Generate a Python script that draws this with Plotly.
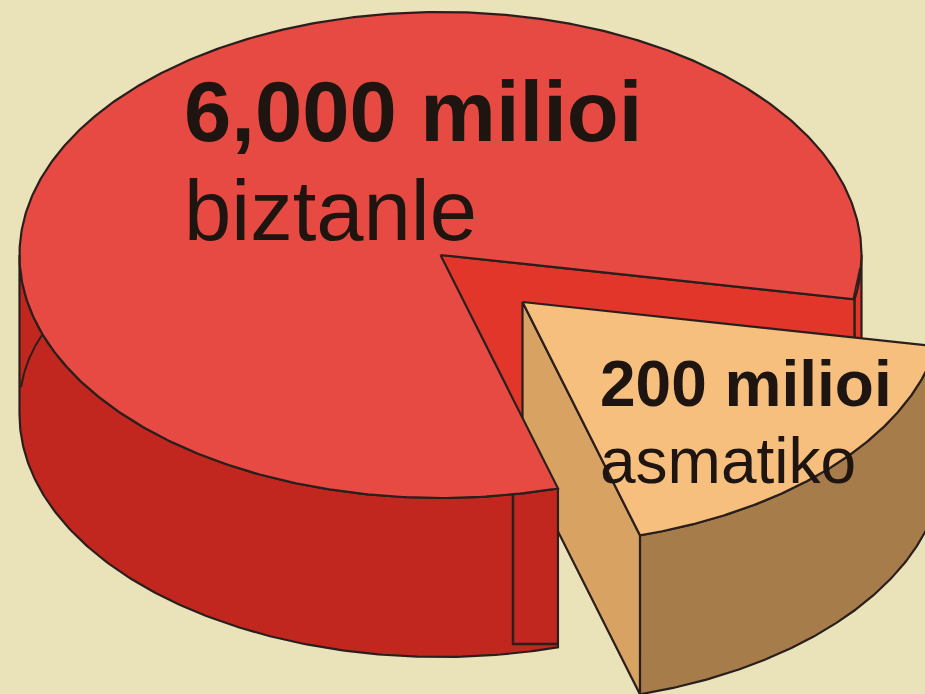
import numpy as np
import plotly.graph_objects as go

# Data
labels_bold = ["6,000 milioi", "200 milioi"]
labels_plain = ["biztanle", "asmatiko"]
populations_millions = [6000, 200]
# The wedge is drawn larger than its true share; angle (degrees, clockwise from east)
wedge_start_deg = 10.5
wedge_end_deg = 73.8

# Pie geometry (pixels on a 925x694 canvas)
CX, CY, RX, RY, DEPTH = 440.5, 255, 421, 243, 159
DX, DY = 82, 47          # explosion offset of the small slice

BG = "#EAE3BA"
TOP_RED = "#E64A43"
CUT_RED = "#E3362A"
SIDE_RED = "#C1271F"
TOP_TAN = "#F6BF7E"
CUT_TAN = "#D8A362"
SIDE_TAN = "#A57C4A"
INK = "#2A1F1C"
TEXT = "#1E1410"


def arc(a0, a1, dx=0, dy=0, n=160):
    t = np.radians(np.linspace(a0, a1, n))
    return CX + dx + RX * np.cos(t), CY + dy + RY * np.sin(t)


def poly(x, y, fill, width=2.2):
    x = list(x) + [x[0]]
    y = list(y) + [y[0]]
    return go.Scatter(x=x, y=y, mode="lines", fill="toself", fillcolor=fill,
                      line=dict(color=INK, width=width), hoverinfo="skip", showlegend=False)


def side(a0, a1, fill, dx=0, dy=0):
    x, y = arc(a0, a1, dx, dy)
    return poly(np.r_[x, x[::-1]], np.r_[y, y[::-1] + DEPTH], fill)


s, e = wedge_start_deg, wedge_end_deg
fig = go.Figure()

# right sliver and cut face of the big piece
fig.add_trace(side(0, s, CUT_RED))
xs, ys = arc(s, s, n=1)
fig.add_trace(poly([CX, xs[0], xs[0], CX], [CY, ys[0], ys[0] + DEPTH, CY + DEPTH], CUT_RED))

# exploded slice
xa, ya = arc(s, e, DX, DY)
ax, ay = CX + DX, CY + DY
fig.add_trace(side(s, e, SIDE_TAN, DX, DY))
fig.add_trace(poly([ax, xa[-1], xa[-1], ax], [ay, ya[-1], ya[-1] + DEPTH, ay + DEPTH], CUT_TAN))
fig.add_trace(poly(np.r_[ax, xa], np.r_[ay, ya], TOP_TAN))

# big piece: side wall and top
fig.add_trace(side(e, 180, SIDE_RED))
xb, yb = arc(e, s + 360, n=500)
fig.add_trace(poly(np.r_[CX, xb], np.r_[CY, yb], TOP_RED))

shapes = [
    dict(type="path", path="M 42 335 Q 26 358 21 387", line=dict(color=INK, width=2)),
    dict(type="path", path="M 513 495 L 513 644 L 558 644", line=dict(color=INK, width=2.5)),
    dict(type="line", x0=853, y0=300, x1=860, y1=268, line=dict(color=INK, width=1.5)),
]

annotations = []
for txt, x, y, size, bold in [
    (labels_bold[0], 183, 111, 85, True),
    (labels_plain[0], 183, 210, 85, False),
    (labels_bold[1], 599, 384, 64, True),
    (labels_plain[1], 599, 461, 64, False),
]:
    annotations.append(dict(
        x=x, y=y, xref="x", yref="y", xanchor="left", yanchor="middle", showarrow=False,
        text=f"<b>{txt}</b>" if bold else txt,
        font=dict(family="Liberation Sans", size=size, color=TEXT), borderpad=0,
    ))

fig.update_layout(
    width=925, height=694, margin=dict(l=0, r=0, t=0, b=0),
    paper_bgcolor=BG, plot_bgcolor=BG, showlegend=False,
    xaxis=dict(range=[0, 925], visible=False, fixedrange=True),
    yaxis=dict(range=[694, 0], visible=False, fixedrange=True),
    shapes=shapes, annotations=annotations,
)

fig.write_html("out.html", post_script="document.body.style.margin='0';document.body.style.overflow='hidden';",
               config=dict(displayModeBar=False))
